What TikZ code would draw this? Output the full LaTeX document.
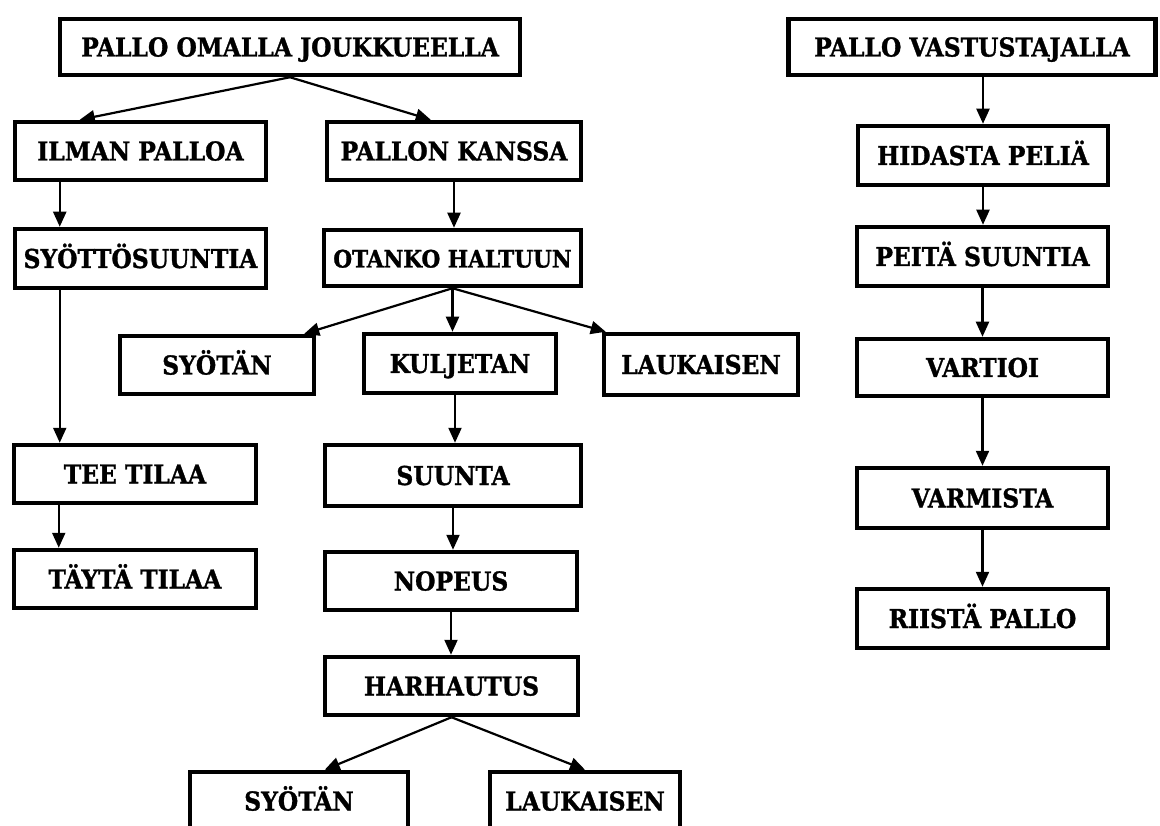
\documentclass[tikz,border=0pt]{standalone}
\usepackage{fontspec}
\setmainfont{DejaVu Serif Condensed}[BoldFeatures={FakeBold=1.2}]
\usetikzlibrary{arrows.meta}
\begin{document}
\begin{tikzpicture}[x=1pt,y=-1pt,
  box/.style 2 args={draw, line width=4.5pt, inner sep=0pt,
    minimum width=#1pt, minimum height=#2pt,
    text height=19pt, text depth=0pt,
    font=\fontsize{26}{26}\selectfont\bfseries},
  snug/.style={font=\fontsize{24}{24}\selectfont\bfseries},
  arr/.style={line width=2.2pt, -{Triangle[length=15pt,width=13pt]}}]
\useasboundingbox (0,0) rectangle (1160,826);
\clip (0,0) rectangle (1160,826);

% ---- ball with own team ----
\node[box={460}{56}] (top)     at (290,47)    {PALLO OMALLA JOUKKUEELLA};
\node[box={251}{58}] (ilman)   at (140.5,151) {ILMAN PALLOA};
\node[box={254}{58}] (kanssa)  at (454,151)   {PALLON KANSSA};
\node[box={251}{59}] (syotto)  at (140.5,258.5) {SYÖTTÖSUUNTIA};
\node[box={257}{56}, snug] (otanko) at (452.5,258) {OTANKO HALTUUN};
\node[box={194}{58}] (syotanA) at (217,365)   {SYÖTÄN};
\node[box={192}{59}] (kulj)    at (460,363.5) {KULJETAN};
\node[box={194}{61}] (laukA)   at (701,364.5) {LAUKAISEN};
\node[box={242}{58}] (tee)     at (135,474)   {TEE TILAA};
\node[box={242}{58}] (tayta)   at (135,579)   {TÄYTÄ TILAA};
\node[box={256}{61}] (suunta)  at (453,475.5) {SUUNTA};
\node[box={252}{58}] (nopeus)  at (451,581)   {NOPEUS};
\node[box={253}{58}] (harh)    at (451.5,686) {HARHAUTUS};
\node[box={218}{58}] (syotanB) at (299,801)   {SYÖTÄN};
\node[box={190}{58}] (laukB)   at (585,801)   {LAUKAISEN};

% ---- ball with the opponent ----
\node[box={367}{56}] (vast)    at (972,47)    {PALLO VASTUSTAJALLA};
\node[box={250}{59}] (hid)     at (983,155.5) {HIDASTA PELIÄ};
\node[box={251}{59}] (peita)   at (982.5,256.5) {PEITÄ SUUNTIA};
\node[box={251}{57}] (vart)    at (982.5,367.5) {VARTIOI};
\node[box={251}{60}] (varm)    at (982.5,498) {VARMISTA};
\node[box={251}{59}] (riista)  at (982.5,618.5) {RIISTÄ PALLO};

% ---- connectors, left branch ----
\draw[arr] (top.south) -- ([xshift=67pt]ilman.north west);
\draw[arr] (top.south) -- ([xshift=106pt]kanssa.north west);
\coordinate (lx1) at ([xshift=47pt]ilman.south west);
\draw[arr] (lx1) -- (lx1 |- syotto.north);
\coordinate (lx2) at ([xshift=47pt]syotto.south west);
\draw[arr] (lx2) -- (lx2 |- tee.north);
\coordinate (lx3) at ([xshift=47pt]tee.south west);
\draw[arr] (lx3) -- (lx3 |- tayta.north);

% ---- connectors, centre branch ----
\draw[arr] (kanssa.south) -- (kanssa.south |- otanko.north);
\draw[arr] (otanko.south) -- ([xshift=-12pt]syotanA.north east);
\draw[arr] (otanko.south) -- (otanko.south |- kulj.north);
\draw[arr] (otanko.south) -- ([xshift=4pt]laukA.north west);
\coordinate (cx1) at ([xshift=-5pt]kulj.south);
\draw[arr] (cx1) -- (cx1 |- suunta.north);
\draw[arr] (suunta.south) -- (suunta.south |- nopeus.north);
\draw[arr] (nopeus.south) -- (nopeus.south |- harh.north);
\draw[arr] (harh.south) -- ([xshift=137pt]syotanB.north west);
\draw[arr] (harh.south) -- (laukB.north);

% ---- connectors, right branch ----
\draw[arr] (hid.north |- vast.south) -- (hid.north);
\draw[arr] (hid.south) -- (hid.south |- peita.north);
\draw[arr] (peita.south) -- (peita.south |- vart.north);
\draw[arr] (vart.south) -- (vart.south |- varm.north);
\draw[arr] (varm.south) -- (varm.south |- riista.north);
\end{tikzpicture}
\end{document}
